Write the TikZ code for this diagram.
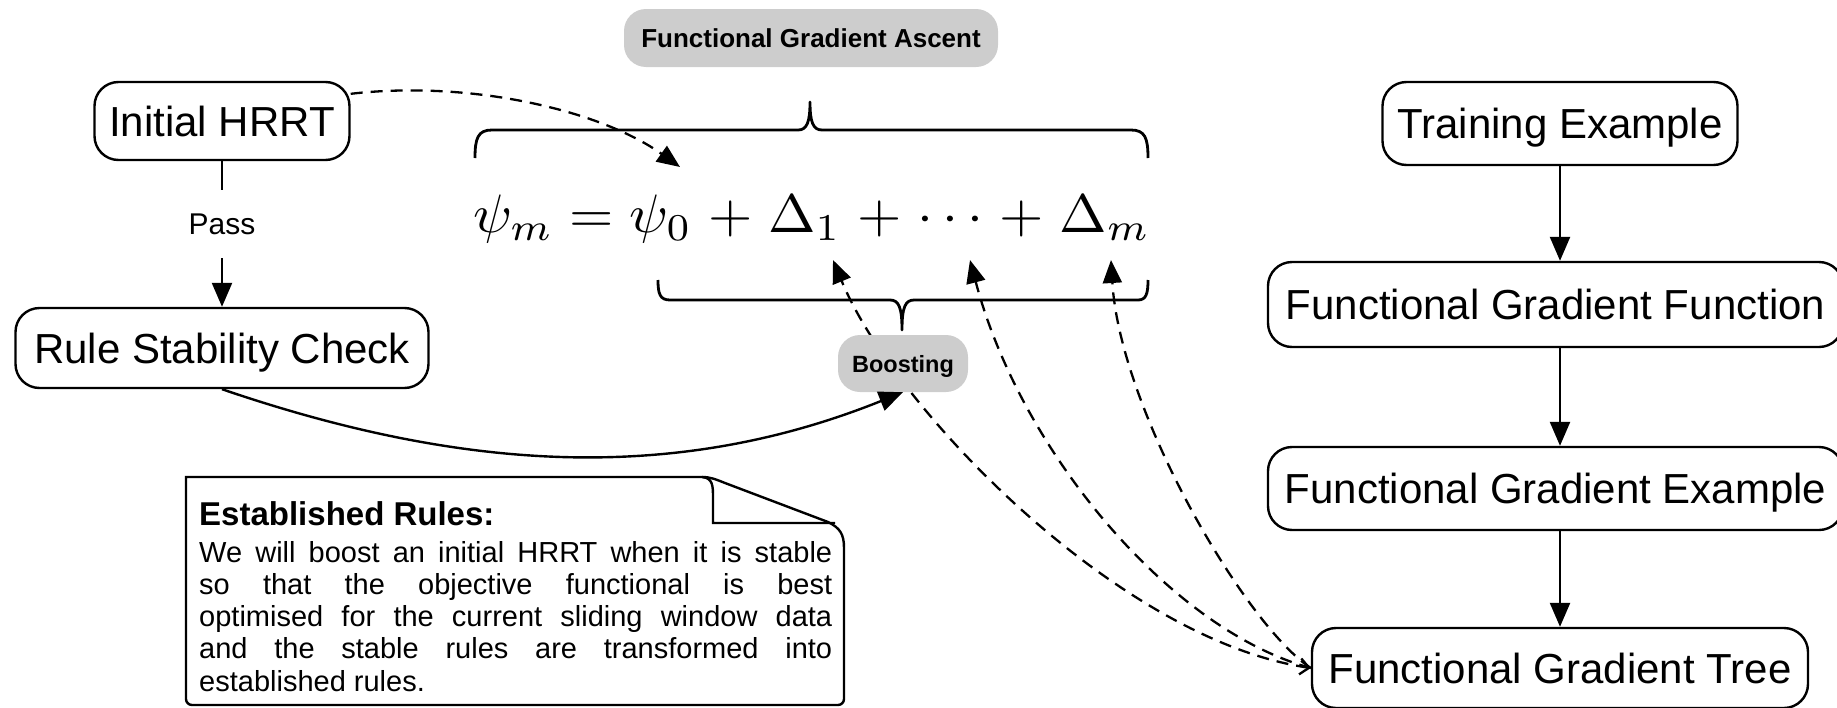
\documentclass[tikz,border=0pt]{standalone}
\usepackage{fontspec}
\setmainfont{Liberation Sans}
\usepackage{graphicx}
\usetikzlibrary{arrows.meta}
\definecolor{boxgray}{RGB}{205,205,205}
\begin{document}
\begin{tikzpicture}[x=1pt,y=-1pt,
  flow/.style={draw, line width=2.4pt, rounded corners=24pt, font=\fontsize{42}{48}\selectfont,
    text height=30pt, text depth=0pt, inner sep=0pt},
  tag/.style={fill=boxgray, rounded corners=22pt, inner sep=0pt, text depth=0pt},
  arr/.style={line width=2.4pt, -{Triangle[length=24pt,width=20pt]}},
  dline/.style={dashed, dash pattern=on 12pt off 8pt, line width=2.3pt},
  dtip/.style={-{Triangle[length=23pt,width=19pt]}},
  brace/.style={line width=2.8pt, line join=round},
  notel/.style={line width=2.4pt}]
\useasboundingbox (0,0) rectangle (1837,707);
\clip (0,0) rectangle (1837,707);

% left column
\node[flow, minimum width=255pt, minimum height=78pt] (init) at (222,121) {Initial HRRT};
\node[flow, minimum width=413pt, minimum height=80pt] (rule) at (222,348) {Rule Stability Check};
\draw[arr] (init) -- node[pos=0.43, fill=white, font=\fontsize{30}{36}\selectfont, text height=22pt, text depth=0pt,
  inner xsep=2pt, inner ysep=23pt] (pass) {Pass} (rule);

% right column
\node[flow, minimum width=355pt, minimum height=83pt] (train) at (1560,123.5) {Training Example};
\node[flow, minimum width=575pt, minimum height=85pt] (fgf) at (1555.5,304.5) {Functional Gradient Function};
\node[flow, minimum width=575pt, minimum height=83pt] (fge) at (1555.5,488.5) {Functional Gradient Example};
\node[flow, minimum width=496pt, minimum height=80pt] (fgt) at (1560,668) {Functional Gradient Tree};
\draw[arr] (train) -- (train |- fgf.north);
\draw[arr] (fgf.south -| train) -- (fge.north -| train);
\draw[arr] (fge.south -| train) -- (fgt.north -| train);

% formula
\node[anchor=base west, inner sep=0pt] (formula) at (473,232)
  {\resizebox{677pt}{37.6pt}{$\thickmuskip=5mu \medmuskip=5mu \psi_m = \psi_0 + \Delta_1 + \cdots + \Delta_m$}};
\coordinate (psi0) at (680,167);
\coordinate (d1) at (833,260);
\coordinate (dd) at (970,260);
\coordinate (dm) at (1111,260);

% braces
\draw[brace] (475,158) .. controls (475,138) and (478,130) .. (492,130) -- (798,130)
  .. controls (807,130) and (810,122) .. (810,102) .. controls (810,122) and (813,130) .. (822,130)
  -- (1131,130) .. controls (1145,130) and (1148,138) .. (1148,158);
\draw[brace] (658,280) .. controls (658,294) and (660,300) .. (670,300) -- (890,300)
  .. controls (899,300) and (902,308) .. (902,330) .. controls (902,308) and (905,300) .. (914,300)
  -- (1138,300) .. controls (1146,300) and (1148,294) .. (1148,280);

% dashed connectors
\draw[dline, dtip] ([yshift=-13pt]init.north east) .. controls (470,80) and (600,110) .. (psi0);
\draw[dline, {Straight Barb[length=9pt,width=16pt]}-{Triangle[length=23pt,width=19pt]}]
  (fgt.west) .. controls (1120,640) and (895,410) .. (d1);
\draw[dline, dtip] (fgt.west) .. controls (1170,630) and (1020,450) .. (dd);
\draw[dline, dtip] (fgt.west) .. controls (1245,625) and (1120,410) .. (dm);

% grey tags
\node[tag, minimum width=374pt, minimum height=58pt, font=\bfseries\fontsize{26}{30}\selectfont, text height=19pt]
  (fga) at (811,38) {Functional Gradient Ascent};
\node[tag, minimum width=130pt, minimum height=57pt, font=\bfseries\fontsize{23.5}{28}\selectfont, text height=17pt]
  (boost) at (903,363.5) {Boosting};
\draw[arr] (rule.south) .. controls (453,468) and (667,487) .. (boost.south);

% note
\draw[notel] (702,477) -- (186,477) [rounded corners=6pt] -- (186,705) -- (844,705) [sharp corners] -- (844,548)
  .. controls (844,534) and (840,528) .. (828,522) -- (725,483) .. controls (715,479) and (710,477) .. (702,477) -- cycle;
\draw[notel] (702,477) .. controls (713,478) and (713,486) .. (713,498) -- (713,523) -- (835,523);
\node[anchor=base west, inner sep=0pt, font=\bfseries\fontsize{33}{38}\selectfont] (ntitle) at (199,525) {Established Rules:};
\node[anchor=base west, inner sep=0pt] (nbody) at (199,562)
  {\parbox[t]{633pt}{\fontsize{29}{32.3}\selectfont We will boost an initial HRRT when it is stable\linebreak
  so that the objective functional is best\linebreak
  optimised for the current sliding window data\linebreak
  and the stable rules are transformed into\linebreak
  established rules.}};
\end{tikzpicture}
\end{document}
